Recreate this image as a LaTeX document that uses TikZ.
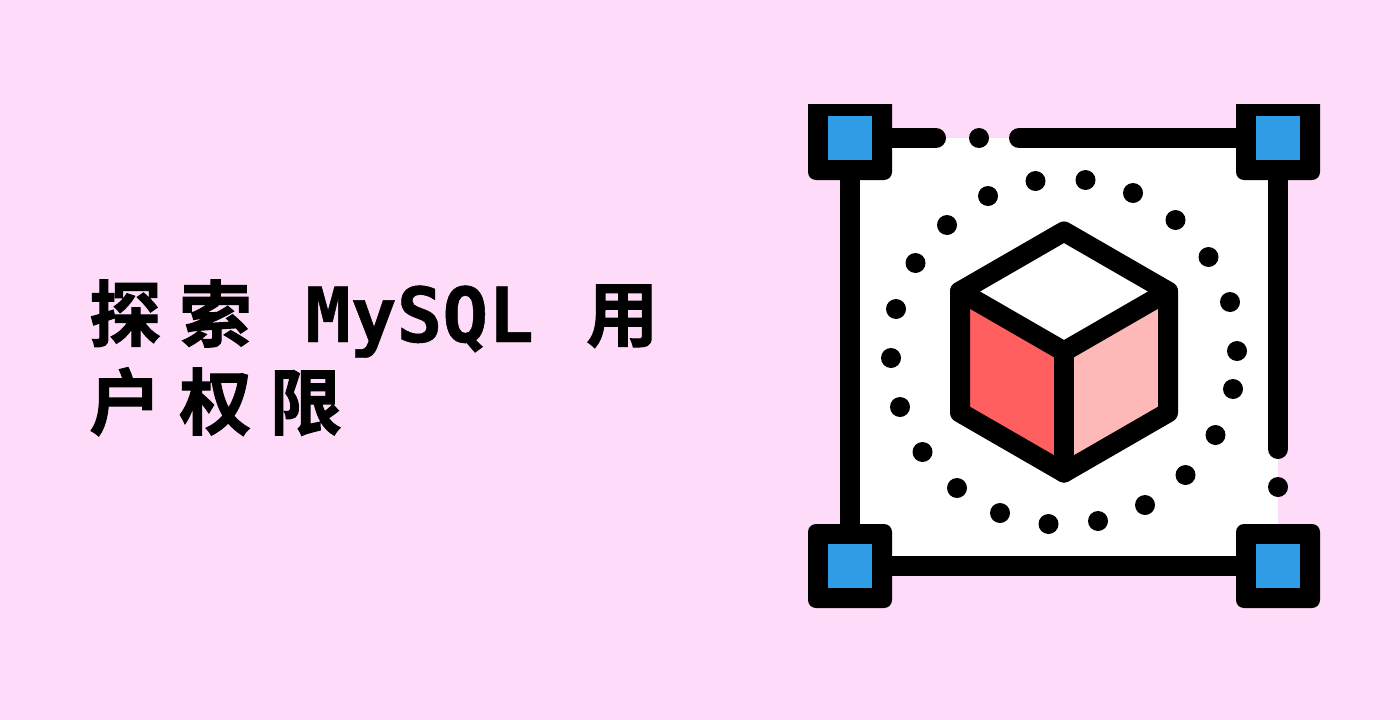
\documentclass[tikz,border=0pt]{standalone}
\usepackage{fontspec}
\usetikzlibrary{positioning}
\newfontfamily\cjkfont[FakeBold=1.6]{Noto Sans CJK SC Bold}
\newfontfamily\cjkwide[FakeBold=1.6,LetterSpace=25.5]{Noto Sans CJK SC Bold}
\newfontfamily\monofont[FakeBold=0.6]{DejaVu Sans Mono Bold}
\definecolor{bgpink}{HTML}{FEDBF9}
\definecolor{handleblue}{HTML}{2F9DE6}
\definecolor{sidered}{HTML}{FF5F5F}
\definecolor{sidepink}{HTML}{FFB8B8}
\begin{document}
\begin{tikzpicture}[x=1pt,y=-1pt]
\tikzstyle{frameline}=[line width=20pt,line cap=round]
\tikzstyle{cubeline}=[line width=20pt,line join=round,line cap=round]
\tikzstyle{title}=[inner sep=0pt,anchor=base west,text=black]
\useasboundingbox (0,0) rectangle (1400,720);
\fill[bgpink] (0,0) rectangle (1400,720);
\fill[white] (850,138) rectangle (1278,566);
% frame
\draw[frameline] (892,138) -- (936,138);
\draw[frameline] (1019,138) -- (1236,138);
\draw[frameline] (850,180) -- (850,524);
\draw[frameline] (1278,180) -- (1278,449);
\draw[frameline] (892,566) -- (1236,566);
\fill (979,138) circle (10pt);
\fill (1278,487) circle (10pt);
% corner handles
\foreach \px in {808,1236} {
  \fill (\px,104) -- ++(84,0) [rounded corners=8pt] -- ++(0,76) -- ++(-84,0) [sharp corners] -- cycle;
  \fill[handleblue] (\px+20,116) rectangle ++(44,44);
  \fill[rounded corners=8pt] (\px,524) rectangle ++(84,84);
  \fill[handleblue] (\px+20,544) rectangle ++(44,44);
}
% ring of dots
\foreach \px/\py in {1035.5/181,1085.5/180,1133/193,1175.5/220,1208.5/257,1230/302,1237/351,1233/389,
  1215.5/435,1185.5/475,1145/505,1098/521,1048.5/524,1000/513,957/488,922.5/452,900/407,891/358,
  896/309,915.5/263,947/225,988/196}
  \fill (\px,\py) circle (10pt);
% cube
\coordinate (top) at (1064,231.5);
\coordinate (left) at (960,291.5);
\coordinate (right) at (1168,291.5);
\coordinate (mid) at (1064,351.5);
\coordinate (lowleft) at (960,412.5);
\coordinate (lowright) at (1168,412.5);
\coordinate (bottom) at (1064,472.5);
\fill[white] (top) -- (right) -- (mid) -- (left) -- cycle;
\fill[sidered] (left) -- (mid) -- (bottom) -- (lowleft) -- cycle;
\fill[sidepink] (right) -- (mid) -- (bottom) -- (lowright) -- cycle;
\draw[cubeline] (top) -- (right) -- (lowright) -- (bottom) -- (lowleft) -- (left) -- cycle;
\draw[cubeline] (left) -- (mid) -- (right);
\draw[cubeline] (mid) -- (bottom);
% title
\node[title] (explore) at (89,341) {\fontsize{72pt}{72pt}\cjkwide 探索};
\node[title] (mysql) at (305,342) {\fontsize{76pt}{76pt}\monofont MySQL};
\node[title] (use) at (586,341) {\fontsize{72pt}{72pt}\cjkfont 用};
\node[title] (rights) at (89,429) {\fontsize{72pt}{72pt}\cjkwide 户权限};
\end{tikzpicture}
\end{document}
